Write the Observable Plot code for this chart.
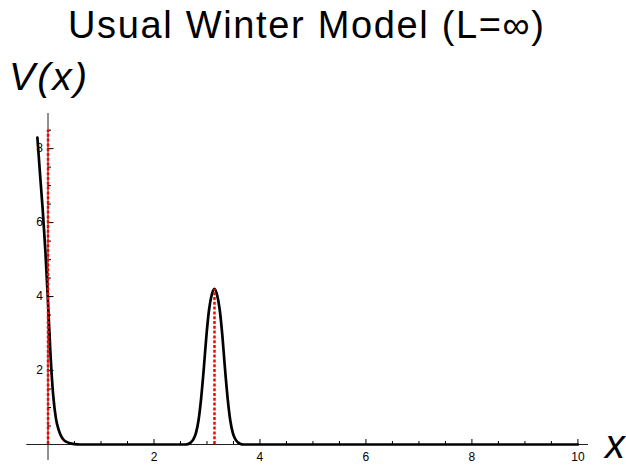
<!DOCTYPE html>
<html><head><meta charset="utf-8">
<script src="https://cdn.jsdelivr.net/npm/d3@7"></script>
<script src="https://cdn.jsdelivr.net/npm/@observablehq/plot@0.6"></script>
<style>
body{margin:0;background:#fff}
#chart{width:626px;height:465px}
</style>
</head><body><div id="chart"></div>
<script>
// Potential curve samples
const curveX = [-0.2, -0.15, -0.1, -0.05, 0, 0.05, 0.1, 0.15, 0.2, 0.25, 0.3, 0.35, 0.4, 0.5, 0.6,
  2.59, 2.64, 2.69, 2.74, 2.79, 2.84, 2.89, 2.94, 2.99, 3.04, 3.09, 3.14,
  3.19, 3.24, 3.29, 3.34, 3.39, 3.44, 3.49, 3.54, 3.59, 3.64, 3.69, 10];
const curveV = [8.3, 7.3, 6.35, 5.25, 3.85, 2.35, 1.3, 0.7, 0.4, 0.22, 0.12, 0.07, 0.04, 0.01, 0,
  0, 0.01, 0.05, 0.13, 0.3, 0.65, 1.25, 2.05, 2.95, 3.65, 4.05, 4.21,
  4.05, 3.65, 2.95, 2.05, 1.25, 0.65, 0.3, 0.13, 0.05, 0.01, 0, 0];
// Red dotted markers
const markerX = [0, 3.1416];
const markerTop = [8.5, 4.2];
// Ticks
const xMajorTicks = [2, 4, 6, 8, 10];
const xMinorTicks = [0.5, 1, 1.5, 2.5, 3, 3.5, 4.5, 5, 5.5, 6.5, 7, 7.5, 8.5, 9, 9.5];
const yMajorTicks = [2, 4, 6, 8];
const yMinorTicks = [0.5, 1, 1.5, 2.5, 3, 3.5, 4.5, 5, 5.5, 6.5, 7, 7.5, 8.5];
const titleText = "Usual Winter Model (L=\u221E)";
const yLabelText = "V(x)";
const xLabelText = "x";

const curve = curveX.map((x, i) => ({x, v: curveV[i]}));
const markers = markerX.map((x, i) => ({x, top: markerTop[i]}));
const FONT = "'Liberation Sans', Arial, sans-serif";

const plot = Plot.plot({
  width: 626, height: 465,
  marginLeft: 47.5, marginRight: 38, marginTop: 113, marginBottom: 21,
  x: {domain: [0, 10.2]},
  y: {domain: [0, 8.95]},
  style: {fontFamily: FONT, color: "black", background: "white", overflow: "visible"},
  marks: [
    Plot.ruleY([0], {x1: -0.4, x2: 10.2, stroke: "#222", strokeWidth: 1}),
    Plot.ruleX([0], {y1: -0.43, y2: 8.95, stroke: "#222", strokeWidth: 1}),
    Plot.axisX({anchor: "bottom", ticks: xMajorTicks, tickSize: -5, text: null, label: null}),
    Plot.axisX({anchor: "bottom", ticks: xMinorTicks, tickSize: -3, text: null, label: null}),
    Plot.axisY({anchor: "left", ticks: yMajorTicks, tickSize: -6, text: null, label: null}),
    Plot.axisY({anchor: "left", ticks: yMinorTicks, tickSize: -3.5, text: null, label: null}),
    Plot.text(xMajorTicks, {x: d => d, y: 0, dy: 13, text: d => String(d), fontSize: 12, fill: "black"}),
    Plot.text(yMajorTicks, {x: 0, y: d => d, dx: -5, text: d => String(d), textAnchor: "end", fontSize: 12, fill: "black"}),
    Plot.line(curve, {x: "x", y: "v", stroke: "black", strokeWidth: 2.7, curve: "monotone-x"}),
    Plot.ruleX(markers, {x: "x", y1: 0, y2: "top", stroke: "#ff0000", strokeWidth: 2.5, strokeDasharray: "3,1.8"})
  ]
});

const svg = d3.select(plot);
svg.append("text").text(titleText)
  .attr("x", 306).attr("y", 38).attr("text-anchor", "middle")
  .attr("textLength", 476).attr("lengthAdjust", "spacing")
  .attr("font-family", FONT).attr("font-size", 38).attr("fill", "black");
svg.append("text").text(yLabelText)
  .attr("x", 9).attr("y", 90).attr("text-anchor", "start")
  .attr("textLength", 78).attr("lengthAdjust", "spacing")
  .attr("font-family", FONT).attr("font-style", "italic").attr("font-size", 39).attr("fill", "black");
svg.append("text").text(xLabelText)
  .attr("x", 605).attr("y", 458).attr("text-anchor", "start")
  .attr("font-family", FONT).attr("font-style", "italic").attr("font-size", 40).attr("fill", "black");

document.getElementById("chart").appendChild(plot);
</script>
</body></html>
